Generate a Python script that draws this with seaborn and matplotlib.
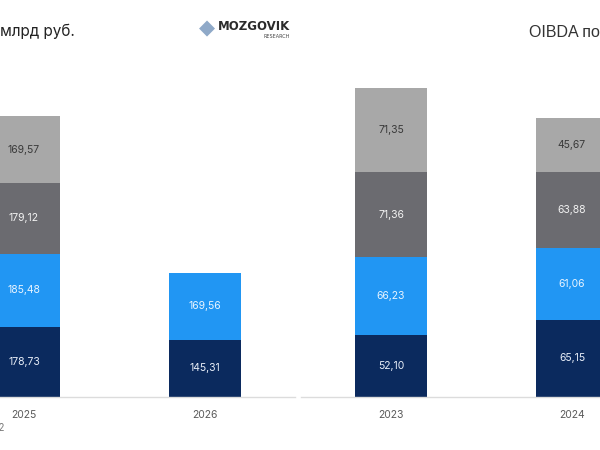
import numpy as np
import pandas as pd
import matplotlib
matplotlib.use("Agg")
import matplotlib.pyplot as plt
import seaborn as sns

# === Data ===
left_years = ["2025", "2026"]
left_navy = [178.73, 145.31]
left_blue = [185.48, 169.56]
left_dgray = [179.12, 0.0]
left_lgray = [169.57, 0.0]

right_years = ["2023", "2024"]
right_navy = [52.10, 65.15]
right_blue = [66.23, 61.06]
right_dgray = [71.36, 63.88]
right_lgray = [71.35, 45.67]

colors = ["#0b2a5e", "#2196f3", "#6b6b70", "#a8a8a8"]
text_colors = ["#e8eef8", "#e8f4ff", "#f2f2f2", "#3a3a3a"]

sns.set_theme(style="white")
plt.rcParams["font.family"] = ["Inter", "DejaVu Sans"]

W, H = 600, 450
fig = plt.figure(figsize=(6, 4.5), dpi=100)


def px_axes(x0, x1, y0, y1):
    # pixel box (top-left origin) -> figure fraction
    return fig.add_axes([x0 / W, 1 - y1 / H, (x1 - x0) / W, (y1 - y0) / H])


def stacked(ax, years, series):
    cum = np.zeros(len(years))
    for vals, col, tcol in zip(series, colors, text_colors):
        vals = np.array(vals)
        df = pd.DataFrame({"year": years, "val": vals})
        n_before = len(ax.containers)
        sns.barplot(data=df, x="year", y="val", ax=ax, color=col, width=0.4,
                    bottom=cum, saturation=1, linewidth=0, errorbar=None)
        cont = ax.containers[n_before]
        labels = [f"{v:.2f}".replace(".", ",") if v > 0 else "" for v in vals]
        ax.bar_label(cont, labels=labels, label_type="center", fontsize=7.5,
                     color=tcol)
        cum = cum + vals


def style(ax):
    for s in ["left", "right", "top"]:
        ax.spines[s].set_visible(False)
    ax.spines["bottom"].set_color("#dcdcdc")
    ax.spines["bottom"].set_linewidth(1)
    ax.set_yticks([])
    ax.set_xlabel("")
    ax.set_ylabel("")
    ax.tick_params(axis="x", length=0, pad=9, labelsize=7.5, labelcolor="#5a5a5a")
    ax.set_facecolor("none")


# left chart (only partly visible)
ax1 = px_axes(-70, 295, 60, 397)
stacked(ax1, left_years, [left_navy, left_blue, left_dgray, left_lgray])
ax1.set_xlim((-70 - 24) / 181, (295 - 24) / 181)
ax1.set_ylim(0, 337 / 0.394)
style(ax1)

# right chart (only partly visible)
ax2 = px_axes(301, 700, 60, 397)
stacked(ax2, right_years, [right_navy, right_blue, right_dgray, right_lgray])
ax2.set_xlim((301 - 391) / 181, (700 - 391) / 181)
ax2.set_ylim(0, 337 / 1.184)
style(ax2)

# titles, cut by the figure edges as in the reference
fig.text(75 / W, 1 - 31 / H, "Выручка, млрд руб.", ha="right", va="center",
         fontsize=11, color="#222222")
fig.text(529 / W, 1 - 32 / H, "OIBDA по сегментам, млрд руб.", ha="left",
         va="center", fontsize=11.5, color="#333333",
         family=["Liberation Sans", "DejaVu Sans"])

# logo
fig.text(207 / W, 1 - 28 / H, "◆", ha="center", va="center", fontsize=15,
         color="#8fa9c8", family="DejaVu Sans")
fig.text(290 / W, 1 - 26 / H, "MOZGOVIK", ha="right", va="center",
         fontsize=8.5, fontweight="bold", color="#2b2b2b", family="DejaVu Sans")
fig.text(290 / W, 1 - 37 / H, "RESEARCH", ha="right", va="center",
         fontsize=3.5, color="#444444", family="DejaVu Sans")

# footnote, cut at the left edge
fig.text(4 / W, 1 - 428 / H, "Источник: данные компании, 2022", ha="right",
         va="center", fontsize=7, color="#777777")

fig.savefig("out.png", dpi=100)
